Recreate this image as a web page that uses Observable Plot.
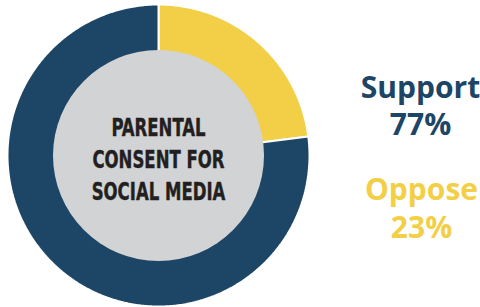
<!DOCTYPE html>
<html>
<head>
<meta charset="utf-8">
<script src="https://cdn.jsdelivr.net/npm/d3@7"></script>
<script src="https://cdn.jsdelivr.net/npm/@observablehq/plot@0.6"></script>
<style>
  html, body { margin: 0; padding: 0; background: #fff; }
</style>
</head>
<body>
<div id="chart"></div>
<script>
// Data
const categories = ["Oppose", "Support"];
const values = [23, 77];
const labels = ["Oppose\n23%", "Support\n77%"];
const colors = ["#f2cf46", "#1d4566"];
const centerLabel = "PARENTAL\nCONSENT FOR\nSOCIAL MEDIA";

// Geometry (pixel units, center of donut at 0,0)
const R = 151;
const W = 480, H = 307;
const cx = 158, cy = 155;

const pie = d3.pie().sort(null).value(d => d.value);
const slices = pie(categories.map((c, i) => ({category: c, value: values[i]})));

// build arc outlines for each slice
const arcPts = [];
slices.forEach(s => {
  const n = Math.max(2, Math.ceil((s.endAngle - s.startAngle) / 0.01));
  arcPts.push({category: s.data.category, x: 0, y: 0});
  for (let k = 0; k <= n; k++) {
    const a = s.startAngle + (s.endAngle - s.startAngle) * k / n;
    arcPts.push({category: s.data.category, x: R * Math.sin(a), y: R * Math.cos(a)});
  }
  arcPts.push({category: s.data.category, x: 0, y: 0});
});

const chart = Plot.plot({
  width: W,
  height: H,
  margin: 0,
  x: {domain: [-cx, W - cx], axis: null},
  y: {domain: [-(H - cy), cy], axis: null},
  color: {domain: categories, range: colors},
  marks: [
    Plot.line(arcPts, {x: "x", y: "y", z: "category", fill: "category", stroke: "white", strokeWidth: 2, strokeLinejoin: "miter"}),
    Plot.dot([{x: 0, y: 0}], {x: "x", y: "y", r: 105.5, fill: "#d1d3d4", stroke: "none"}),
    Plot.text([centerLabel], {x: 0, y: -2.2, text: d => d, className: "center-label", fontFamily: "'Liberation Sans Narrow', 'DejaVu Sans Condensed', sans-serif", fontWeight: 700, fontSize: 24.5, lineHeight: 1.306, fill: "#231f20", stroke: "#231f20", strokeWidth: 0.4}),
    Plot.text([labels[1]], {x: 420 - cx, y: cy - 104, text: d => d, fontFamily: "'Open Sans', sans-serif", fontWeight: 700, fontSize: 30, lineHeight: 1.25, fill: colors[1]}),
    Plot.text([labels[0]], {x: 421 - cx, y: cy - 206.5, text: d => d, fontFamily: "'Open Sans', sans-serif", fontWeight: 700, fontSize: 30, lineHeight: 1.25, fill: colors[0]})
  ]
});
document.getElementById("chart").appendChild(chart);

// condense the center label horizontally (the reference uses a condensed face)
d3.select(chart).selectAll(".center-label text").each(function() {
  const t = this.getAttribute("transform");
  if (t) {
    this.setAttribute("transform", t + " scale(0.75,1)");
  } else {
    const x = +this.getAttribute("x") || 0, y = +this.getAttribute("y") || 0;
    this.removeAttribute("x"); this.removeAttribute("y");
    this.setAttribute("transform", `translate(${x},${y}) scale(0.75,1)`);
  }
});
</script>
</body>
</html>
